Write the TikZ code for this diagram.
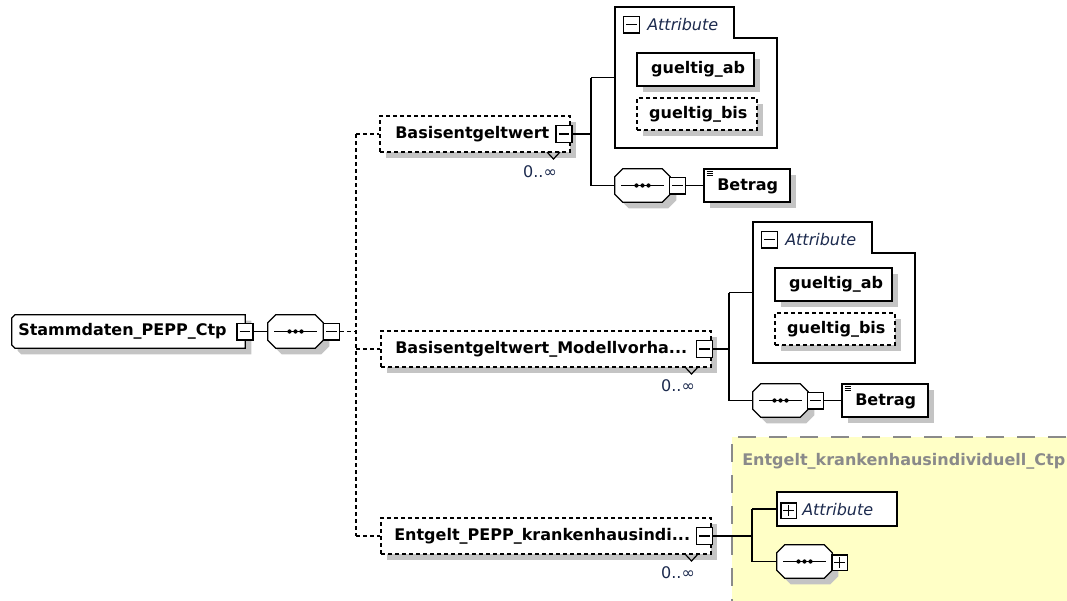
\documentclass[tikz,border=0pt]{standalone}
\usepackage{fontspec}
\setmainfont{DejaVu Sans}
\usetikzlibrary{shadows,fit}
\definecolor{shadec}{RGB}{196,196,196}
\definecolor{ybg}{RGB}{255,255,198}
\definecolor{ttlc}{RGB}{138,138,138}
\definecolor{cntc}{RGB}{28,42,78}
\newcommand\bfnt{\fontsize{12pt}{14pt}\selectfont\bfseries}
\newcommand\rfnt{\fontsize{12pt}{14pt}\selectfont}
\newcommand\seqoct[1]{%
  \filldraw[fill=white, ln, shd] ([xshift=6pt]#1.north west) -- ([xshift=-6pt]#1.north east) -- ([yshift=-6pt]#1.north east) -- ([yshift=6pt]#1.south east) -- ([xshift=-6pt]#1.south east) -- ([xshift=6pt]#1.south west) -- ([yshift=6pt]#1.south west) -- ([yshift=-6pt]#1.north west) -- cycle;
  \draw[ln] ([xshift=5pt]#1.west) -- ([xshift=-5pt]#1.east);
  \fill ([xshift=-4.5pt]#1.center) circle (1.6pt) (#1.center) circle (1.6pt) ([xshift=4.5pt]#1.center) circle (1.6pt);}
\newcommand\textico[1]{%
  \draw[line width=0.55pt] ([xshift=2.5pt,yshift=-2.2pt]#1.north west) -- ++(4.5pt,0pt)
    ([xshift=2.5pt,yshift=-3.8pt]#1.north west) -- ++(4.5pt,0pt)
    ([xshift=2.5pt,yshift=-5.4pt]#1.north west) -- ++(4.5pt,0pt);}
\tikzset{
  ln/.style={line width=1pt},
  shd/.style={drop shadow={shadow xshift=4.5pt, shadow yshift=-4.5pt, fill=shadec, opacity=1}},
  dsh/.style={dash pattern=on 3pt off 2.25pt},
  boxn/.style={rectangle, draw, ln, fill=white, inner sep=0pt},
  anch/.style={rectangle, inner sep=0pt, draw=none},
  btnminus/.style={rectangle, draw, fill=white, ln, minimum width=12pt, minimum height=12.5pt, inner sep=0pt,
    path picture={\draw[ln] ([xshift=-4pt]path picture bounding box.center) -- ([xshift=4pt]path picture bounding box.center);}},
  btnplus/.style={rectangle, draw, fill=white, ln, minimum width=11.5pt, minimum height=11.5pt, inner sep=0pt,
    path picture={\draw[ln] ([xshift=-3.8pt]path picture bounding box.center) -- ([xshift=3.8pt]path picture bounding box.center)
      ([yshift=-3.8pt]path picture bounding box.center) -- ([yshift=3.8pt]path picture bounding box.center);}},
  lbl/.style={font=\bfnt, inner sep=0pt, anchor=west},
  ctr/.style={font=\bfnt, inner sep=0pt},
  attrtxt/.style={font=\rfnt\itshape, text=cntc, inner sep=0pt, anchor=west},
  cnt/.style={font=\rfnt, text=cntc, inner sep=0pt},
  chev/.style={line width=0.9pt},
}
\begin{document}
\begin{tikzpicture}[x=0.75pt, y=-0.75pt]
\useasboundingbox (0,0) rectangle (1067,600);

% ---------- yellow complex type region ----------
\fill[ybg] (732,437) rectangle (1085,615);
\draw[ttlc, line width=1.3pt, dash pattern=on 13.5pt off 9.75pt, dash phase=9pt] (1085,437) -- (732,437) -- (732,615);
\node[font=\bfnt, text=ttlc, inner sep=0pt, anchor=west] (ttl) at (742,461) {Entgelt\_krankenhausindividuell\_Ctp};

% ---------- root ----------
\node[anch, fit={(12,315)(245,348)}] (root) {};
\filldraw[fill=white, ln, shd] ([xshift=2.5pt]root.north west) -- (root.north east) -- (root.south east) -- ([xshift=2.5pt]root.south west) -- ([yshift=2.5pt]root.south west) -- ([yshift=-2.5pt]root.north west) -- cycle;
\node[lbl] (roottxt) at (18,331.5) {Stammdaten\_PEPP\_Ctp};
\node[btnminus] (rootbtn) at (245,331.5) {};

\node[anch, fit={(268,315)(323,348)}] (seq1) {};
\seqoct{seq1}
\node[btnminus] (seq1btn) at (331.5,331.5) {};
\draw[ln] (rootbtn.east) -- (seq1.west);

% ---------- dashed trunk ----------
\coordinate (tTop) at (356,134);
\coordinate (tMid) at (356,331.5);
\coordinate (tBot) at (356,536);
\coordinate (tE2) at (356,349);
\draw[ln, dsh] (seq1btn.east) -- (tMid);
\draw[ln, dsh] (tTop) -- (tBot);

% ---------- element 1 ----------
\node[boxn, dsh, shd, fit={(380,116)(570,152)}] (e1) {};
\node[lbl] (e1txt) at (395,134) {Basisentgeltwert};
\node[btnminus] (e1btn) at (564,134) {};
\draw[chev] (547,152) -- (553.5,159) -- (560,152);
\node[cnt] (e1cnt) at (540,172) {0..∞};
\draw[ln, dsh] (tTop) -- (e1.west);

\coordinate (v1) at (591,134);
\coordinate (j1a) at (591,77.5);
\coordinate (j1b) at (591,185.5);
\draw[ln] (e1btn.east) -- (v1);
\draw[ln] (j1a) -- (j1b);

\node[anch, fit={(615,7)(777,148)}] (attr1) {};
\draw[ln, fill=white] (615,7) -- (734,7) -- (734,38) -- (777,38) -- (777,148) -- (615,148) -- cycle;
\draw[ln] (j1a) -- (attr1.west);
\node[btnminus] (a1btn) at (631.5,24.5) {};
\node[attrtxt] (a1txt) at (647,24.5) {Attribute};
\node[boxn, shd, fit={(637,53)(754,86)}] (ga1) {};
\node[ctr] (ga1txt) at ([xshift=2pt]ga1.center) {gueltig\_ab};
\node[boxn, dsh, shd, fit={(637,98)(757,130)}] (gb1) {};
\node[ctr] (gb1txt) at ([xshift=1pt]gb1.center) {gueltig\_bis};

\node[anch, fit={(615,169)(670,202)}] (seq2) {};
\seqoct{seq2}
\node[btnminus] (seq2btn) at (677.5,185.5) {};
\draw[ln] (j1b) -- (seq2.west);
\node[boxn, shd, fit={(704,169)(790,202)}] (bet1) {};
\textico{bet1}
\node[lbl] (bet1txt) at (717,186.5) {Betrag};
\draw[ln] (seq2btn.east) -- (bet1.west);

% ---------- element 2 ----------
\node[boxn, dsh, shd, fit={(381,331)(711,367)}] (e2) {};
\node[lbl] (e2txt) at (395,349) {Basisentgeltwert\_Modellvorha...};
\node[btnminus] (e2btn) at (704.5,349) {};
\draw[chev] (685,367) -- (691.5,374) -- (698,367);
\node[cnt] (e2cnt) at (678,386) {0..∞};
\draw[ln, dsh] (tE2) -- (e2.west);

\coordinate (v2) at (729,349);
\coordinate (j2a) at (729,292.5);
\coordinate (j2b) at (729,400.5);
\draw[ln] (e2btn.east) -- (v2);
\draw[ln] (j2a) -- (j2b);

\node[anch, fit={(753,222)(915,363)}] (attr2) {};
\draw[ln, fill=white] (753,222) -- (872,222) -- (872,253) -- (915,253) -- (915,363) -- (753,363) -- cycle;
\draw[ln] (j2a) -- (attr2.west);
\node[btnminus] (a2btn) at (769.5,239.5) {};
\node[attrtxt] (a2txt) at (785,239.5) {Attribute};
\node[boxn, shd, fit={(775,268)(892,301)}] (ga2) {};
\node[ctr] (ga2txt) at ([xshift=2pt]ga2.center) {gueltig\_ab};
\node[boxn, dsh, shd, fit={(775,313)(895,345)}] (gb2) {};
\node[ctr] (gb2txt) at ([xshift=1pt]gb2.center) {gueltig\_bis};

\node[anch, fit={(753,384)(808,417)}] (seq3) {};
\seqoct{seq3}
\node[btnminus] (seq3btn) at (815.5,400.5) {};
\draw[ln] (j2b) -- (seq3.west);
\node[boxn, shd, fit={(842,384)(928,417)}] (bet2) {};
\textico{bet2}
\node[lbl] (bet2txt) at (855,401.5) {Betrag};
\draw[ln] (seq3btn.east) -- (bet2.west);

% ---------- element 3 ----------
\node[boxn, dsh, shd, fit={(381,518)(711,554)}] (e3) {};
\node[lbl] (e3txt) at (394,536) {Entgelt\_PEPP\_krankenhausindi...};
\node[btnminus] (e3btn) at (704.5,536) {};
\draw[chev] (685,554) -- (691.5,561) -- (698,554);
\node[cnt] (e3cnt) at (678,573) {0..∞};
\draw[ln, dsh] (tBot) -- (e3.west);

\coordinate (v3) at (752,536);
\coordinate (j3a) at (752,509);
\coordinate (j3b) at (752,561.5);
\draw[ln] (e3btn.east) -- (v3);
\draw[ln] (j3a) -- (j3b);

\node[boxn, fit={(777,492)(897,526)}] (attr3) {};
\node[btnplus] (a3btn) at (788.5,510.5) {};
\node[attrtxt] (a3txt) at (802,509.5) {Attribute};
\draw[ln] (j3a) -- (attr3.west);

\node[anch, fit={(777,545)(832,578)}] (seq4) {};
\seqoct{seq4}
\node[btnplus] (seq4btn) at (839.5,562.5) {};
\draw[ln] (j3b) -- (seq4.west);
\end{tikzpicture}
\end{document}
